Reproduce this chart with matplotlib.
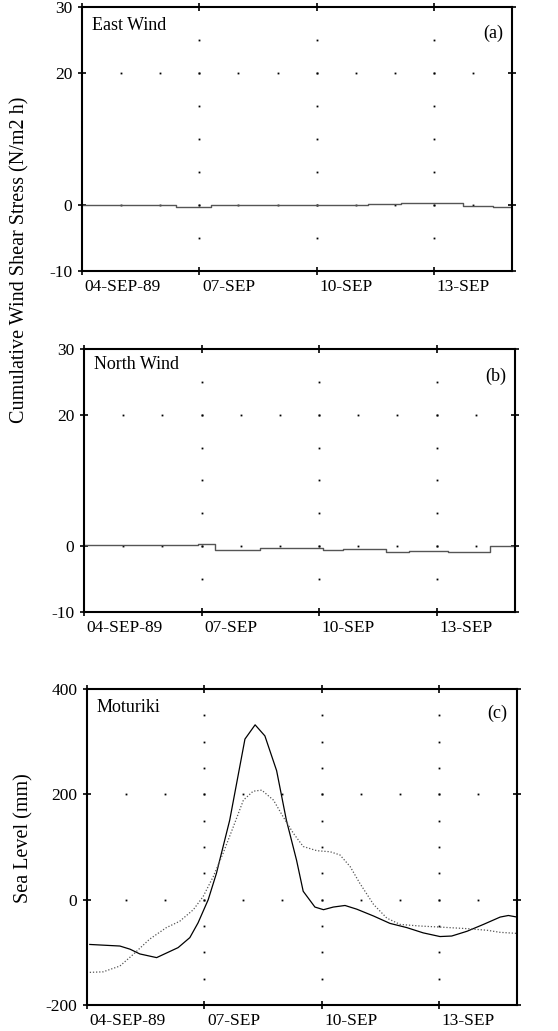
import matplotlib
matplotlib.use("Agg")
import matplotlib.pyplot as plt
import matplotlib.transforms as mtransforms
import numpy as np

plt.rcParams['font.family'] = ['Liberation Serif', 'DejaVu Serif']

# x axis: days since 04-SEP-89
x_ticks = [0, 3, 6, 9]
x_labels = ['04-SEP-89', '07-SEP', '10-SEP', '13-SEP']

# Panel (a) East wind cumulative stress (step series)
east_day = [0, 2.4, 3.3, 5.0, 7.3, 8.15, 9.75, 10.5, 11]
east_val = [-0.05, -0.3, 0.1, 0.05, 0.15, 0.4, -0.1, -0.25, -0.25]

# Panel (b) North wind cumulative stress (step series)
north_day = [0, 2.9, 3.35, 4.5, 5.3, 6.1, 6.6, 7.7, 8.3, 9.3, 10.35, 11]
north_val = [0.15, 0.4, -0.5, -0.2, -0.3, -0.5, -0.45, -0.9, -0.7, -0.9, 0.0, 0.0]

# Panel (c) Moturiki sea level
obs_day = [0.07, 0.84, 1.1, 1.35, 1.78, 2.33, 2.63, 2.84, 3.1, 3.31, 3.65, 4.04,
           4.3, 4.55, 4.85, 5.1, 5.36, 5.53, 5.83, 6.05, 6.3, 6.6, 6.9, 7.33,
           7.75, 8.18, 8.6, 9.03, 9.33, 9.72, 10.14, 10.57, 10.78, 11.0]
obs_val = [-85, -88, -94, -103, -110, -91, -72, -44, 0, 50, 151, 305,
           332, 311, 245, 151, 75, 16, -14, -19, -14, -11, -18, -31,
           -45, -53, -63, -70, -69, -60, -47, -33, -30, -33]

mod_day = [0.07, 0.41, 0.84, 1.18, 1.6, 2.03, 2.37, 2.72, 2.97, 3.23, 3.48, 3.74,
           4.0, 4.25, 4.47, 4.77, 5.02, 5.28, 5.53, 5.88, 6.22, 6.47, 6.73, 6.98,
           7.33, 7.67, 8.01, 8.52, 9.03, 9.72, 10.23, 10.57, 11.0]
mod_val = [-138, -137, -126, -104, -75, -53, -41, -19, 6, 44, 88, 138,
           189, 206, 208, 189, 157, 126, 101, 93, 91, 85, 63, 31,
           -9, -35, -47, -50, -52, -55, -58, -62, -64]

wind_yticks = [-10, 0, 20, 30]
wind_ylabels = ['-10', '0', '20', '30']
sea_yticks = [-200, 0, 200, 400]
sea_ylabels = ['-200', '0', '200', '400']

fig = plt.figure(figsize=(5.58, 10.31), dpi=100)
FS = 12.5
TFS = 13

def style(ax, ylim, yticks, ylabels, grid_y_rows, vstep):
    ax.set_xlim(0, 11)
    ax.set_ylim(*ylim)
    ax.set_xticks(x_ticks)
    ax.set_xticklabels(x_labels, fontsize=FS, ha='left')
    ax.set_yticks(yticks)
    ax.set_yticklabels(ylabels, fontsize=FS)
    ax.tick_params(direction='inout', length=6, width=1.2, top=True, right=True,
                   labeltop=False, labelright=False)
    ax.tick_params(axis='x', pad=3)
    ax.tick_params(axis='y', pad=4)
    off = mtransforms.ScaledTranslation(2 / 72, 0, fig.dpi_scale_trans)
    for lab in ax.get_xticklabels():
        lab.set_transform(lab.get_transform() + off)
    for s in ax.spines.values():
        s.set_linewidth(1.5)
    # dotted grid: daily dots along rows, vstep dots along major x ticks
    days = np.arange(1, 11)
    for yr in grid_y_rows:
        ax.plot(days, np.full(len(days), yr), ls='none', marker='s', ms=1.3,
                color='black', mew=0)
    vy = np.arange(ylim[0] + vstep, ylim[1], vstep)
    for xv in x_ticks[1:]:
        ax.plot(np.full(len(vy), xv), vy, ls='none', marker='s', ms=1.3,
                color='black', mew=0)

axa = fig.add_axes([0.147, 0.737, 0.771, 0.256])
style(axa, (-10, 30), wind_yticks, wind_ylabels, [20, 0], 5)
axa.step(east_day, east_val, where='post', color='#555555', lw=1.0)
axa.text(0.023, 0.93, 'East Wind', transform=axa.transAxes, fontsize=TFS, va='center')
axa.text(0.955, 0.90, '(a)', transform=axa.transAxes, fontsize=TFS, va='center', ha='center')

axb = fig.add_axes([0.1505, 0.4064, 0.7725, 0.2551])
style(axb, (-10, 30), wind_yticks, wind_ylabels, [20, 0], 5)
axb.step(north_day, north_val, where='post', color='#555555', lw=1.0)
axb.text(0.023, 0.94, 'North Wind', transform=axb.transAxes, fontsize=TFS, va='center')
axb.text(0.955, 0.897, '(b)', transform=axb.transAxes, fontsize=TFS, va='center', ha='center')

axc = fig.add_axes([0.156, 0.0252, 0.7705, 0.3065])
style(axc, (-200, 400), sea_yticks, sea_ylabels, [200, 0], 50)
axc.plot(obs_day, obs_val, color='black', lw=0.9)
axc.plot(mod_day, mod_val, color='#555555', lw=0.9, ls=(0, (1, 1.5)))
axc.text(0.023, 0.943, 'Moturiki', transform=axc.transAxes, fontsize=TFS, va='center')
axc.text(0.955, 0.924, '(c)', transform=axc.transAxes, fontsize=TFS, va='center', ha='center')

fig.text(0.036, 1 - 260 / 1031, 'Cumulative Wind Shear Stress (N/m2 h)', rotation=90,
         ha='center', va='center', fontsize=14.5)
fig.text(0.043, 1 - 838 / 1031, 'Sea Level (mm)', rotation=90,
         ha='center', va='center', fontsize=14.5)

fig.savefig('out.png', dpi=100)
